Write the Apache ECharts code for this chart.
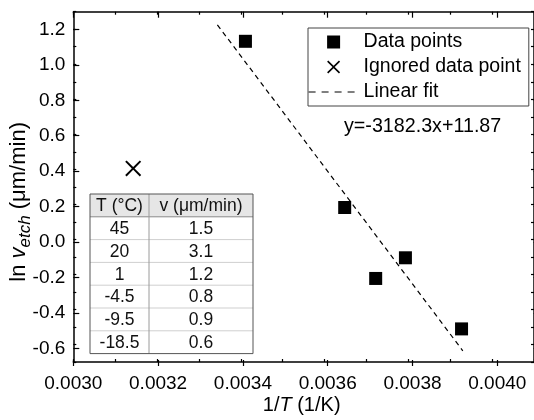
<!DOCTYPE html>
<html><head><meta charset="utf-8">
<script src="https://cdn.jsdelivr.net/npm/echarts@6/dist/echarts.min.js"></script>
<style>html,body{margin:0;padding:0;background:#fff}#c{width:534px;height:420px}</style>
</head><body><div id="c"></div>
<script>
// ---- data ----
const dataX = [0.003411, 0.003648, 0.003722, 0.003793, 0.003927];
const dataY = [1.131, 0.182, -0.223, -0.105, -0.511];
const ignoredX = [0.003143];
const ignoredY = [0.405];
const fitX = [0.003344, 0.003930];
const fitY = [1.225, -0.636];
const fitLabel = 'y=-3182.3x+11.87';
const tableHeader = ['T (°C)', 'v (μm/min)'];
const tableTemps = ['45', '20', '1', '-4.5', '-9.5', '-18.5'];
const tableRates = ['1.5', '3.1', '1.2', '0.8', '0.9', '0.6'];
const xLabelMin = 0.0030, xLabelMax = 0.0040, xLabelStep = 0.0002;
const yLabelMin = -0.6, yLabelMax = 1.2, yLabelStep = 0.2;
const xFrameMin = 0.0030, xFrameMax = 0.0041, xMinorStep = 0.0001;
const yFrameMin = -0.7, yFrameMax = 1.3, yMinorStep = 0.1;

// ---- layout ----
const FF = 'Liberation Sans, Arial, sans-serif';
const G = {left: 73.3, top: 11.7, right: -5.7, bottom: 54};
const W = 534, H = 420;
const gw = W - G.left - G.right, gh = H - G.top - G.bottom;
const pxX = gw / (xFrameMax - xFrameMin), pxY = gh / (yFrameMax - yFrameMin);
const g1 = {
  left: G.left,
  right: W - (G.left + (xLabelMax - xFrameMin) * pxX),
  top: G.top + (yFrameMax - yLabelMax) * pxY,
  bottom: G.bottom + (yLabelMin - yFrameMin) * pxY
};
const offX = (yLabelMin - yFrameMin) * pxY;
const offYR = (xFrameMax - xLabelMax) * pxX;

const frameLine = {show: true, onZero: false, lineStyle: {color: '#000', width: 1.5}};
const noLine = {show: false, onZero: false};
const minorTick = {show: true, inside: true, length: 3, lineStyle: {color: '#000', width: 1.2}};
const majorTick = {show: true, inside: true, length: 6, lineStyle: {color: '#000', width: 1.2}};

function frameX(pos) {
  return {type: 'value', gridIndex: 0, position: pos, min: xFrameMin, max: xFrameMax, interval: xMinorStep,
    axisLine: frameLine, axisTick: minorTick, axisLabel: {show: false}, splitLine: {show: false}};
}
function frameY(pos) {
  return {type: 'value', gridIndex: 0, position: pos, min: yFrameMin, max: yFrameMax, interval: yMinorStep,
    axisLine: frameLine, axisTick: minorTick, axisLabel: {show: false}, splitLine: {show: false}};
}

// table graphic
const rowH = 22.8, c1 = 59, c2 = 104, tX = 90, tY = 194;
const tChildren = [];
tChildren.push({type: 'rect', shape: {x: 0, y: 0, width: c1 + c2, height: rowH}, style: {fill: '#e6e6e6'}});
for (let i = 1; i <= tableTemps.length; i++) {
  tChildren.push({type: 'line', shape: {x1: 0, y1: i * rowH, x2: c1 + c2, y2: i * rowH},
    style: {stroke: i === 1 ? '#8a8a8a' : '#cfcfcf', lineWidth: 1}});
}
tChildren.push({type: 'line', shape: {x1: c1, y1: 0, x2: c1, y2: rowH * 7}, style: {stroke: '#9a9a9a', lineWidth: 1}});
tChildren.push({type: 'rect', shape: {x: 0, y: 0, width: c1 + c2, height: rowH * 7}, style: {fill: 'none', stroke: '#555', lineWidth: 1}});
const tFont = {fontSize: 17.5, fontFamily: FF, fill: '#111', align: 'center', verticalAlign: 'middle'};
tChildren.push({type: 'text', x: c1 / 2, y: rowH / 2 + 1, style: Object.assign({text: tableHeader[0]}, tFont)});
tChildren.push({type: 'text', x: c1 + c2 / 2, y: rowH / 2 + 1, style: Object.assign({text: tableHeader[1]}, tFont)});
tableTemps.forEach((t, i) => {
  tChildren.push({type: 'text', x: c1 / 2, y: rowH * (i + 1.5) + 1, style: Object.assign({text: t}, tFont)});
  tChildren.push({type: 'text', x: c1 + c2 / 2, y: rowH * (i + 1.5) + 1, style: Object.assign({text: tableRates[i]}, tFont)});
});

const chart = echarts.init(document.getElementById('c'), null, {renderer: 'canvas'});
chart.setOption({
  backgroundColor: '#fff',
  animation: false,
  textStyle: {fontFamily: FF, color: '#000'},
  grid: [
    {left: G.left, right: G.right, top: G.top, bottom: G.bottom},
    {left: g1.left, right: g1.right, top: g1.top, bottom: g1.bottom}
  ],
  xAxis: [
    Object.assign(frameX('bottom'), {
      name: '{n|1/}{i|T}{n| (1/K)}', nameLocation: 'middle', nameGap: 33,
      nameTextStyle: {padding: [0, 4, 0, 0], rich: {
        n: {fontSize: 20, fontFamily: FF, color: '#000'},
        i: {fontSize: 20, fontFamily: FF, fontStyle: 'italic', color: '#000'}}}
    }),
    frameX('top'),
    {type: 'value', gridIndex: 1, position: 'bottom', offset: offX, min: xLabelMin, max: xLabelMax, interval: xLabelStep,
      axisLine: noLine, axisTick: majorTick, splitLine: {show: false},
      axisLabel: {show: true, margin: 8, fontSize: 19, fontFamily: FF, color: '#000', formatter: v => v.toFixed(4)}},
    {type: 'value', gridIndex: 1, position: 'top', offset: offX, min: xLabelMin, max: xLabelMax, interval: xLabelStep,
      axisLine: noLine, axisTick: majorTick, splitLine: {show: false}, axisLabel: {show: false}}
  ],
  yAxis: [
    Object.assign(frameY('left'), {
      name: '{n|ln }{i|v}{s|etch}{n| (μm/min)}', nameLocation: 'middle', nameGap: 40, nameRotate: 90,
      nameTextStyle: {padding: [0, 30, 0, 0], rich: {
        n: {fontSize: 22, fontFamily: FF, color: '#000', lineHeight: 28, verticalAlign: 'middle'},
        i: {fontSize: 22, fontFamily: FF, fontStyle: 'italic', color: '#000', lineHeight: 28, verticalAlign: 'middle'},
        s: {fontSize: 17, fontFamily: FF, fontStyle: 'italic', color: '#000', lineHeight: 28, verticalAlign: 'bottom'}}}
    }),
    frameY('right'),
    {type: 'value', gridIndex: 1, position: 'left', min: yLabelMin, max: yLabelMax, interval: yLabelStep,
      axisLine: noLine, axisTick: majorTick, splitLine: {show: false},
      axisLabel: {show: true, margin: 8, fontSize: 19, fontFamily: FF, color: '#000', formatter: v => v.toFixed(1)}},
    {type: 'value', gridIndex: 1, position: 'right', offset: offYR, min: yLabelMin, max: yLabelMax, interval: yLabelStep,
      axisLine: noLine, axisTick: majorTick, splitLine: {show: false}, axisLabel: {show: false}}
  ],
  legend: {
    left: 308, top: 28, orient: 'vertical', itemWidth: 50, itemHeight: 13, itemGap: 5,
    padding: [4, 8, 4, 0], borderColor: '#444', borderWidth: 1, backgroundColor: '#fff',
    textStyle: {fontSize: 19.5, fontFamily: FF, color: '#000', lineHeight: 20},
    data: [
      {name: 'Data points', icon: 'path://M0,0H10V10H0Z'},
      {name: 'Ignored data point'},
      {name: 'Linear fit', itemStyle: {color: 'rgba(0,0,0,0)', borderColor: 'rgba(0,0,0,0)', borderWidth: 0},
        lineStyle: {color: '#000', width: 1.2, type: [7, 6]}}
    ]
  },
  graphic: [
    {type: 'text', x: 344, y: 127, style: {text: fitLabel, fontSize: 19.7, fontFamily: FF, fill: '#000', align: 'left', verticalAlign: 'middle'}},
    {type: 'group', x: tX, y: tY, children: tChildren}
  ],
  series: [
    {name: 'Linear fit', type: 'line', xAxisIndex: 0, yAxisIndex: 0, symbol: 'none', z: 2,
      itemStyle: {color: '#000'},
      lineStyle: {color: '#000', width: 1.2, type: [5, 4]},
      data: fitX.map((x, i) => [x, fitY[i]])},
    {name: 'Data points', type: 'scatter', xAxisIndex: 0, yAxisIndex: 0, symbol: 'rect', symbolSize: 13, z: 3,
      itemStyle: {color: '#000', opacity: 1},
      data: dataX.map((x, i) => [x, dataY[i]])},
    {name: 'Ignored data point', type: 'scatter', xAxisIndex: 0, yAxisIndex: 0, z: 3,
      symbol: 'path://M0,1.4L1.4,0L8,6.6L14.6,0L16,1.4L9.4,8L16,14.6L14.6,16L8,9.4L1.4,16L0,14.6L6.6,8Z',
      symbolSize: 16, itemStyle: {color: '#000', opacity: 1},
      data: ignoredX.map((x, i) => [x, ignoredY[i]])}
  ]
});
</script></body></html>
